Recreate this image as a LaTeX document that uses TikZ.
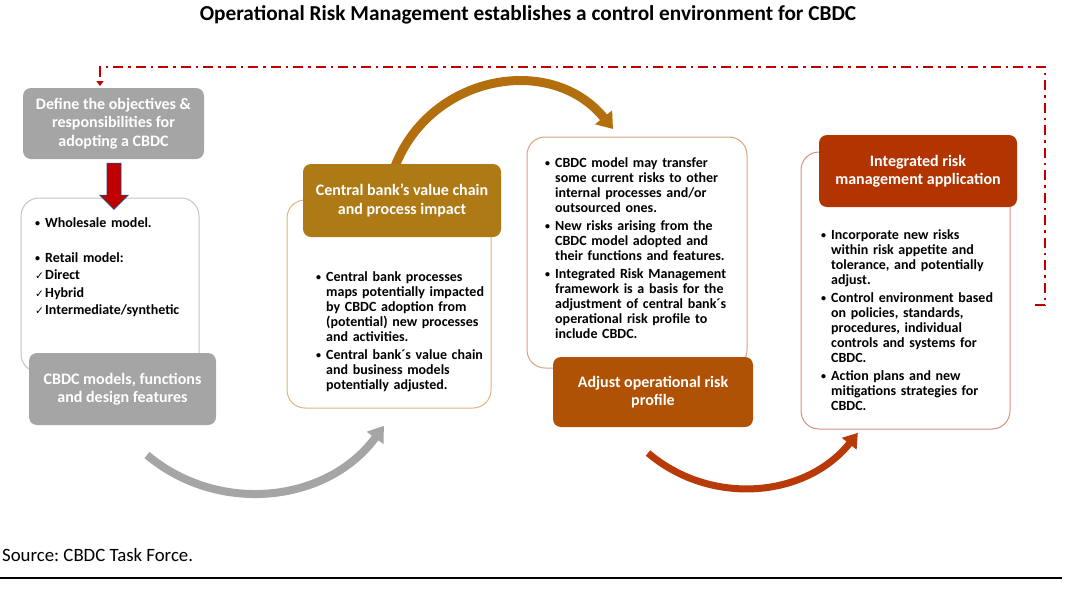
\documentclass[tikz,border=0pt]{standalone}
\usepackage{fontspec}
\setmainfont{Carlito}
\newfontfamily\checkfont{DejaVu Sans}
\usetikzlibrary{arrows.meta,calc}

\definecolor{hdrgrey}{HTML}{A5A5A5}
\definecolor{panelgrey}{HTML}{C4C4C4}
\definecolor{hdrgold}{HTML}{AE7A16}
\definecolor{arcgold}{HTML}{B36F0E}
\definecolor{panelgold}{HTML}{E2B47F}
\definecolor{hdrrust}{HTML}{B05205}
\definecolor{panelrust}{HTML}{D9A283}
\definecolor{hdrred}{HTML}{B23400}
\definecolor{arcred}{HTML}{B83A08}
\definecolor{panelred}{HTML}{D9907E}
\definecolor{cbdcred}{HTML}{C00000}
\definecolor{arrowblue}{HTML}{2F4270}

\def \hdrradius {8pt}
\def \panelradius {18pt}

\newcommand{\hdrfont}{\bfseries\fontsize{16}{18.5}\selectfont}
\newcommand{\bodyfont}{\bfseries\fontsize{14}{15}\selectfont\parindent=0pt}
\newcommand{\wsfont}{\bfseries\fontsize{14}{17.5}\selectfont\parindent=0pt}
% bullet item: text sits 10pt in, bullet hangs in the margin
\newcommand{\bpt}[1][0pt]{\par\vspace{#1}\leftskip=10pt\noindent\llap{\makebox[10pt][l]{\raisebox{0.8pt}{\fontsize{10}{10}\selectfont\textbullet}}}\ignorespaces}
\newcommand{\tick}{\par\noindent\llap{\makebox[10pt][l]{\checkfont\fontsize{10.5}{10.5}\selectfont ✓}}\ignorespaces}

\begin{document}
\begin{tikzpicture}[x=1pt,y=-1pt,
  hdr/.style={rounded corners=\hdrradius, fill=#1, text=white, font=\hdrfont, align=center, inner sep=0pt},
  panel/.style={draw=#1, fill=white, rounded corners=\panelradius, line width=1pt, inner sep=0pt},
  bodytext/.style={anchor=north west, inner sep=0pt, text width=#1, font=\bodyfont, align=left},
  swoosh/.style={draw=#1, line width=8pt, -{Triangle[width=20pt,length=15pt]}},
  feedback/.style={draw=cbdcred, line width=2.2pt, dash pattern=on 10pt off 5pt on 2.5pt off 5pt, -{Triangle[width=7pt,length=5pt]}}
]
\useasboundingbox (0,0) rectangle (1065,590);

\node[font=\bfseries\fontsize{21.3}{25}\selectfont] (title) at (528,15) {Operational Risk Management establishes a control environment for CBDC};

% models and design features
\node[panel=panelgrey, minimum width=178pt, minimum height=174pt] (modelbox) at (110,285) {};
\node[hdr=hdrgrey, minimum width=181pt, minimum height=71pt] (objectives) at (113.5,123.5) {Define the objectives \& \\ responsibilities for \\ adopting a CBDC};
\filldraw[fill=cbdcred, draw=arrowblue, line width=0.8pt] ($(objectives.south)+(-6.5,4)$) -- ++(14,0) -- ++(0,32) -- ++(7,0)
  -- ++(-14,14) -- ++(-14,-14) -- ++(7,0) -- cycle; % block arrow down
\node[bodytext=175pt, font=\wsfont] (modeltext) at (35,209.5) {%
  \bpt Wholesale model.\par\vspace{17.5pt}
  \bpt Retail model:
  \tick Direct
  \tick Hybrid
  \tick Intermediate/synthetic\par};
\node[hdr=hdrgrey, minimum width=187pt, minimum height=72pt] (models) at (122.5,389) {CBDC models, functions \\ and design features};

% value chain
\node[panel=panelgold, minimum width=204pt, minimum height=208pt] (valuebox) at (389,304) {};
\coordinate (goldstart) at (393,172);
\coordinate (goldend) at (613,129);
\draw[swoosh=arcgold, line width=9pt, -{Triangle[width=21pt,length=15pt]}] (goldstart) .. controls (426,75) and (550.6,52) .. (goldend); % to risk profile
\node[hdr=hdrgold, minimum width=198pt, minimum height=73pt] (valuehdr) at (402,200.5) {Central bank’s value chain \\ and process impact};
\node[bodytext=200pt] (valuetext) at (316,266.5) {%
  \bpt Central bank processes\\ maps potentially impacted\\ by CBDC adoption from\\ (potential) new processes\\ and activities.
  \bpt[3pt] Central bank´s value chain\\ and business models\\ potentially adjusted.\par};

% operational risk profile
\node[panel=panelrust, minimum width=220pt, minimum height=231pt] (profilebox) at (637,252.5) {};
\node[bodytext=200pt] (profiletext) at (545,152.5) {%
  \bpt CBDC model may transfer\\ some current risks to other\\ internal processes and/or\\ outsourced ones.
  \bpt[3pt] New risks arising from the\\ CBDC model adopted and\\ their functions and features.
  \bpt[3pt] Integrated Risk Management\\ framework is a basis for the\\ adjustment of central bank´s\\ operational risk profile to\\ include CBDC.\par};
\node[hdr=hdrrust, minimum width=200pt, minimum height=70pt] (profile) at (653,392) {Adjust operational risk \\ profile};

% integrated application
\node[panel=panelred, minimum width=209pt, minimum height=277pt] (appbox) at (905.5,290.5) {};
\node[hdr=hdrred, minimum width=198pt, minimum height=72pt] (apphdr) at (918,171) {Integrated risk \\ management application};
\node[bodytext=200pt] (apptext) at (821,224.5) {%
  \bpt Incorporate new risks\\ within risk appetite and\\ tolerance, and potentially\\ adjust.
  \bpt[3pt] Control environment based\\ on policies, standards,\\ procedures, individual\\ controls and systems for\\ CBDC.
  \bpt[3pt] Action plans and new\\ mitigations strategies for\\ CBDC.\par};

% bottom swooshes
\coordinate (greystart) at (147,455);
\coordinate (greyend) at (383.9,425.8);
\draw[swoosh=hdrgrey] (greystart) .. controls (219.4,515.8) and (328.3,502.3) .. (greyend);
\coordinate (redstart) at (648,453);
\coordinate (redend) at (857.9,432.8);
\draw[swoosh=arcred, line width=7pt, -{Triangle[width=18pt,length=14pt]}] (redstart) .. controls (711.2,506.7) and (806.2,497.6) .. (redend);

% feedback loop
\coordinate (fbstart) at (1035,305);
\coordinate (fbcorner) at (1045,67);
\draw[feedback] (fbstart) -- (fbstart -| fbcorner) -- (fbcorner) -- (fbcorner -| 100,0) -- (100,86);

\node[anchor=west, font=\fontsize{18.8}{21}\selectfont\frenchspacing, inner sep=0pt] (source) at (2,555) {Source: CBDC Task Force.};
\draw[line width=2.2pt] (0,578) -- (1062,578);
\end{tikzpicture}
\end{document}
